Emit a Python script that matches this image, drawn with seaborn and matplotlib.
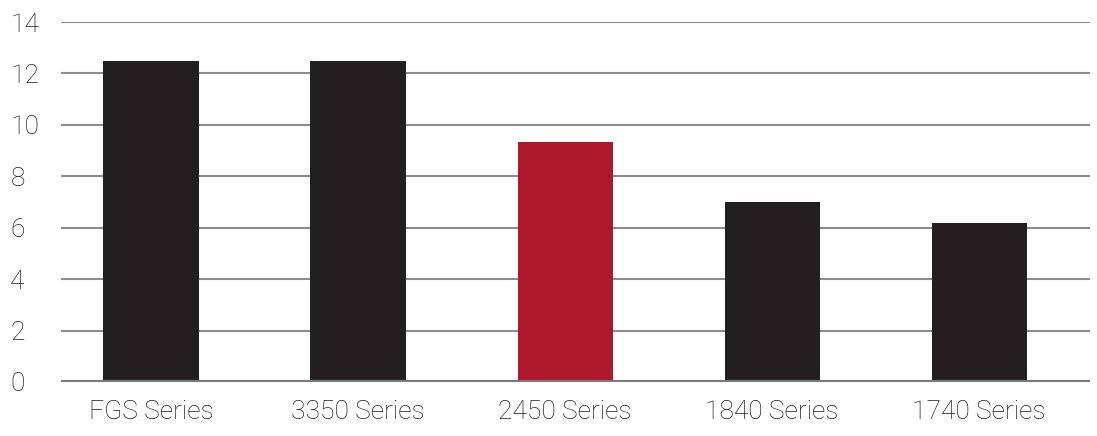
import pandas as pd
import matplotlib.pyplot as plt
import seaborn as sns

sns.set_style("white")
plt.rcParams['font.family'] = ['Roboto', 'DejaVu Sans']

series = ["FGS Series", "3350 Series", "2450 Series", "1840 Series", "1740 Series"]
values = [12.5, 12.5, 9.35, 7.0, 6.2]
highlight = ["other", "other", "main", "other", "other"]

df = pd.DataFrame({"Series": series, "Value": values, "Group": highlight})

fig = plt.figure(figsize=(10.97, 4.36), dpi=100)
ax = fig.add_axes([0.0556, 0.124, 0.938, 0.8255])

sns.barplot(x="Series", y="Value", data=df, hue="Group",
            palette={"other": "#231f20", "main": "#ae182d"},
            width=0.46, dodge=False, legend=False, ax=ax, saturation=1,
            linewidth=0, zorder=3)

ax.set_ylim(0, 14)
ax.set_xlim(-0.435, 4.535)
ax.set_yticks(range(0, 15, 2))
for y in range(2, 15, 2):
    ax.axhline(y, color="#8c8c8c", lw=1.5, zorder=1)
ax.axhline(0, color="#7a7a7a", lw=3, zorder=4)

for s in ax.spines.values():
    s.set_visible(False)
ax.tick_params(axis="both", length=0, labelsize=19, colors="#1e1e1e")
ax.tick_params(axis="x", pad=13)
ax.tick_params(axis="y", pad=36.5)
for lbl in ax.get_yticklabels() + ax.get_xticklabels():
    lbl.set_fontweight("light")
for lbl in ax.get_yticklabels():
    lbl.set_horizontalalignment("left")
ax.set_xlabel("")
ax.set_ylabel("")

plt.savefig("out.png")
